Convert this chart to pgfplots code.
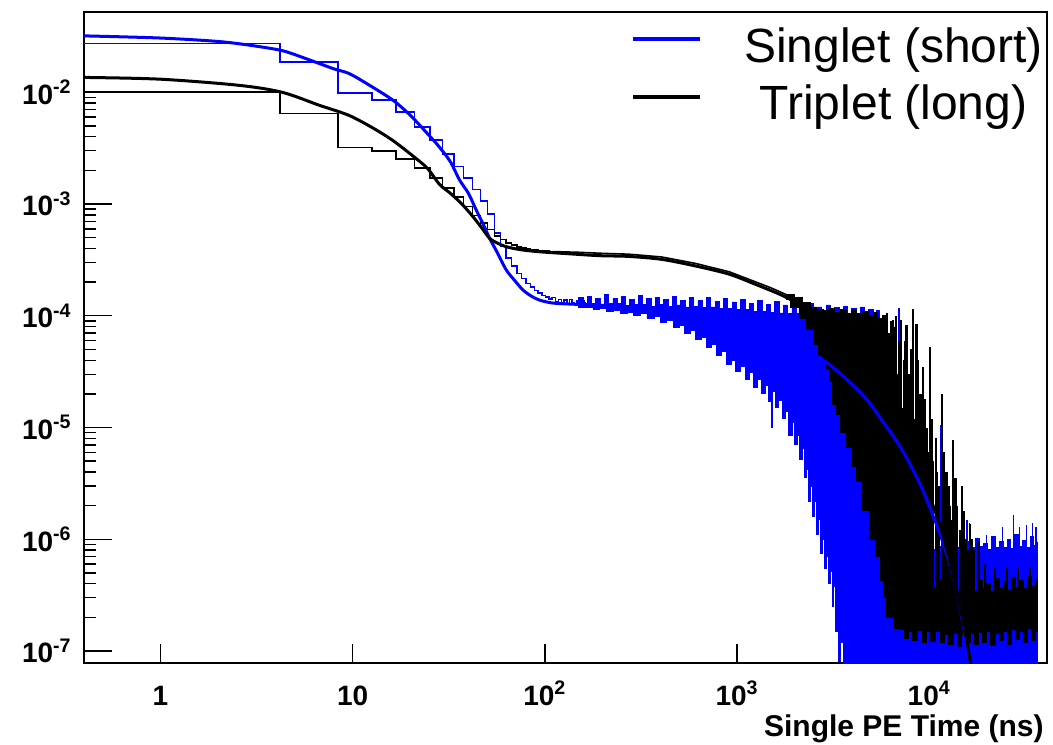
\documentclass[border=0pt]{standalone}
\usepackage{fontspec}
\setmainfont{Liberation Sans}
\usepackage{pgfplots}
\pgfplotsset{compat=1.18}
\begin{document}
\begin{tikzpicture}
\useasboundingbox (-42pt,-40.35pt) rectangle (484.5pt,331.65pt);
\begin{axis}[
  xmode=log, ymode=log,
  scale only axis, width=481.5pt, height=325.5pt,
  xmin=0.4, xmax=41000, ymin=7.76e-8, ymax=0.052,
  axis line style={line width=1.1pt},
  tick pos=left, tick align=inside,
  major tick length=14pt, minor tick length=6pt,
  every tick/.style={line width=0.7pt, black},
  xtick=\empty,
  minor xtick={0.5,0.6,0.7,0.8,0.9,2,3,4,5,6,7,8,9,20,30,40,50,60,70,80,90,
    200,300,400,500,600,700,800,900,2000,3000,4000,5000,6000,7000,8000,9000,20000,30000,40000},
  extra x ticks={1,10,100,1000,10000},
  extra x tick labels={1,10,10\textsuperscript{2},10\textsuperscript{3},10\textsuperscript{4}},
  extra x tick style={major tick length=9.5pt},
  ytick={1e-7,1e-6,1e-5,1e-4,1e-3,1e-2},
  yticklabels={10\textsuperscript{-7},10\textsuperscript{-6},10\textsuperscript{-5},10\textsuperscript{-4},10\textsuperscript{-3},10\textsuperscript{-2}},
  ticklabel style={font=\fontsize{14}{16}\selectfont\bfseries, inner sep=0pt},
  xticklabel style={anchor=base, yshift=-21pt},
  yticklabel style={anchor=east, xshift=-6pt},
  xlabel={Single PE Time (ns)},
  xlabel style={at={(axis description cs:1,0)}, anchor=base east, yshift=-36.5pt, xshift=-1.5pt, inner sep=0pt, font=\fontsize{15}{18}\selectfont\bfseries},
  legend style={draw=none, fill=none, at={(1,1)}, anchor=north east, xshift=-2pt, yshift=-7.7pt,
    inner sep=0pt, outer sep=0pt, row sep=9.7pt, column sep=21pt,
    font=\fontsize{24}{28}\selectfont, nodes={inner sep=0pt}},
  legend cell align=center,
  legend image code/.code={\draw[#1, line width=2pt] (0pt,3.6pt) -- (33.5pt,3.6pt);},
  unbounded coords=jump,
]
% singlet histogram, first bins
\addplot[const plot, blue, line width=0.8pt, forget plot] coordinates {
(0.3,0.0274)(4.2,0.0186)(8.4,0.0098)(12.6,0.0085)(16.8,0.0067)(21,0.0049)(25.2,0.00374)
(29.4,0.00281)(33.6,0.00217)(37.8,0.00171)(42,0.00135)(46.2,0.00106)(50.4,0.00081)
(54.6,0.00055)(58.8,0.00042)(63,0.00033)(67.2,0.00028)(71.4,0.00024)(75.6,0.000215)
(79.8,0.000195)(84,0.00018)(88.2,0.000168)(92.4,0.00016)(96.6,0.000152)(100.8,0.000148)
(105,0.000142)(109.2,0.000146)(113.4,0.000133)(117.6,0.00014)(121.8,0.00013)(126,0.000138)
(130.2,0.000128)(134.4,0.00014)(138.6,0.00013)(142.8,0.000127)(147,0.000136)(151.2,0.000125)
(155.4,0.000135)(159.6,0.00013)(163.8,0.00013)};
% singlet histogram, noisy part (upper envelope, then lower envelope)
\addplot[const plot, fill=blue, draw=blue, line width=0.4pt, forget plot] coordinates {
(150,1.45e-4)(158,1.27e-4)(166,1.5e-4)(175,1.3e-4)(184,1.42e-4)(194,1.25e-4)(204,1.55e-4)
(215,1.28e-4)(226,1.44e-4)(238,1.3e-4)(250,1.49e-4)(263,1.24e-4)(277,1.41e-4)(291,1.27e-4)
(306,1.52e-4)(322,1.26e-4)(339,1.43e-4)(357,1.22e-4)(376,1.47e-4)(395,1.27e-4)(416,1.4e-4)
(438,1.21e-4)(461,1.5e-4)(485,1.25e-4)(510,1.38e-4)(537,1.2e-4)(565,1.45e-4)(595,1.22e-4)
(626,1.36e-4)(659,1.18e-4)(693,1.46e-4)(730,1.2e-4)(768,1.35e-4)(808,1.16e-4)(851,1.42e-4)
(895,1.17e-4)(942,1.33e-4)(992,1.14e-4)(1044,1.4e-4)(1099,1.13e-4)(1156,1.3e-4)(1217,1.1e-4)
(1281,1.37e-4)(1348,1.1e-4)(1419,1.27e-4)(1494,1.08e-4)(1572,1.34e-4)(1655,1.06e-4)
(1742,1.25e-4)(1833,1.05e-4)(1930,1.3e-4)(2031,1.04e-4)(2138,1.22e-4)(2250,1.02e-4)
(2368,1.28e-4)(2493,1.0e-4)(2624,1.2e-4)(2762,1.0e-4)(2907,1.25e-4)(3060,9.8e-5)
(3221,1.18e-4)(3390,9.8e-5)(3568,1.22e-4)(3756,9.6e-5)(3953,1.16e-4)(4161,9.6e-5)
(4380,1.2e-4)(4610,9.5e-5)(4852,1.15e-4)(5107,9.5e-5)(5300,1.12e-4)
(5500,6e-5)(5700,2e-5)(6000,4e-6)(6300,1.2e-6)
(6600,8.5e-7)(6900,1.0e-6)(7200,7.8e-7)(7500,9.6e-7)(7800,8.4e-7)(8100,1.05e-6)(8500,8e-7)
(8900,9.2e-7)(9300,8.3e-7)(9800,1.1e-6)(10300,8.1e-7)(10800,9.6e-7)(11300,8.6e-7)
(11900,1.0e-6)(12500,8.2e-7)(13100,9.4e-7)(13700,8.5e-7)(14400,1.08e-6)(15100,8.2e-7)
(15800,9.5e-7)(16600,8.4e-7)(17400,1.02e-6)(18200,8.6e-7)(19100,9.2e-7)(20000,8.1e-7)
(21000,1.05e-6)(22000,8.5e-7)(23100,9.6e-7)(24200,8.4e-7)(25400,1.0e-6)(26600,8.2e-7)
(27900,1.1e-6)(29200,8.6e-7)(30600,9.8e-7)(32000,8.4e-7)(33500,1.06e-6)(35000,8.8e-7)
(36700,9.5e-7)
(36700,1e-8)(3770,1e-8)(3650,5e-8)(3560,1.2e-7)(3450,8e-8)(3380,2.2e-7)(3320,1.5e-7)
(3250,3.8e-7)(3190,2.5e-7)(3140,5.2e-7)(3060,4e-7)(2990,7e-7)(2920,5.5e-7)(2850,1.0e-6)
(2790,7.5e-7)(2720,1.5e-6)(2660,1.1e-6)(2600,2.2e-6)(2540,1.6e-6)(2480,3e-6)(2420,2.2e-6)
(2360,4.2e-6)(2300,3.6e-6)(2240,6.5e-6)(2180,5.2e-6)(2120,8.5e-6)(2060,7e-6)(2000,1.1e-5)
(1930,8.5e-6)(1860,1.4e-5)(1790,1.2e-5)(1720,1.75e-5)(1650,1.5e-5)(1580,2.1e-5)(1520,1.7e-5)
(1460,2.4e-5)(1400,2.0e-5)(1340,2.7e-5)(1280,2.3e-5)(1220,3.1e-5)(1160,2.7e-5)(1100,3.5e-5)
(1040,3.2e-5)(980,4.0e-5)(930,3.7e-5)(880,4.8e-5)(830,4.4e-5)(780,5.6e-5)(735,5.2e-5)
(690,6.4e-5)(650,6.1e-5)(610,7.4e-5)(570,7.0e-5)(535,8.2e-5)(500,7.9e-5)(465,9e-5)
(430,8.8e-5)(400,9.8e-5)(370,9.5e-5)(340,1.04e-4)(315,1.01e-4)(290,1.08e-4)(268,1.06e-4)
(248,1.12e-4)(228,1.1e-4)(210,1.16e-4)(193,1.14e-4)(178,1.2e-4)(164,1.18e-4)(150,1.24e-4)} -- cycle;
% singlet spikes
\addplot[blue, line width=0.8pt, forget plot] coordinates {
(1520,2.5e-5)(1520,1e-5)(1520,nan)
(6940,1e-6)(6940,1.17e-4)(6940,nan)
(7700,1e-6)(7700,6e-5)(7700,nan)
(8300,1e-6)(8300,3e-5)(8300,nan)
(11430,1e-6)(11430,1.05e-5)(11430,nan)
(15700,5e-7)(15700,1.5e-6)(15700,nan)
(16200,5e-7)(16200,1.4e-6)(16200,nan)
(19900,5e-7)(19900,1.1e-6)(19900,nan)
(24000,5e-7)(24000,1.3e-6)(24000,nan)
(27500,5e-7)(27500,1.66e-6)(27500,nan)
(29500,5e-7)(29500,1.3e-6)(29500,nan)
(32000,5e-7)(32000,1.35e-6)(32000,nan)
(34500,5e-7)(34500,1.4e-6)(34500,nan)
(36000,5e-7)(36000,1.3e-6)};
% triplet histogram, first bins
\addplot[const plot, black, line width=0.8pt, forget plot] coordinates {
(0.3,0.0101)(4.2,0.00646)(8.4,0.0032)(12.6,0.00299)(16.8,0.00252)(21,0.0021)(25.2,0.00171)
(29.4,0.00139)(33.6,0.00115)(37.8,0.00095)(42,0.00079)(46.2,0.00068)(50.4,0.00059)
(54.6,0.00052)(58.8,0.00048)(63,0.00045)(67.2,0.00043)(71.4,0.000415)(75.6,0.000405)
(79.8,0.000397)(84,0.00039)(88.2,0.000386)(92.4,0.000382)(96.6,0.00038)(100.8,0.000378)
(105,0.000376)};
\addplot[black, line width=0.8pt, forget plot] coordinates {
(105,3.76e-4)(120,3.74e-4)(150,3.7e-4)(200,3.62e-4)(272,3.56e-4)(405,3.36e-4)(603,2.95e-4)
(908,2.48e-4)(1240,2.02e-4)(1500,1.78e-4)(1800,1.55e-4)};
% triplet histogram, noisy part
\addplot[const plot, fill=black, draw=black, line width=0.4pt, forget plot] coordinates {
(1800,1.55e-4)(2000,1.45e-4)(2200,1.32e-4)(2400,1.2e-4)(2600,1.15e-4)(2800,1.12e-4)
(3000,1.16e-4)(3200,1.08e-4)(3450,1.14e-4)(3700,1.05e-4)(3950,1.12e-4)(4200,1.04e-4)
(4500,1.1e-4)(4800,1.0e-4)(5100,1.08e-4)(5400,9.5e-5)(5700,1.0e-4)(5900,4e-5)(6100,8e-6)
(6300,2e-6)(6600,8e-7)
(7000,6e-7)(7400,4.3e-7)(7800,5.3e-7)(8200,4.0e-7)(8700,4.8e-7)(9200,3.9e-7)(9700,4.6e-7)
(10200,3.7e-7)(10800,4.4e-7)(11400,3.6e-7)(12000,4.6e-7)(12600,3.7e-7)(13300,4.2e-7)
(14000,3.5e-7)(14700,4.4e-7)(15500,3.6e-7)(16300,4.1e-7)(17100,3.4e-7)(18000,4.3e-7)
(18900,3.6e-7)(19900,4.0e-7)(20900,3.4e-7)(22000,4.5e-7)(23100,3.6e-7)(24300,4.2e-7)
(25500,3.5e-7)(26800,4.6e-7)(28100,3.7e-7)(29500,4.3e-7)(31000,3.6e-7)(32500,4.7e-7)
(34100,3.8e-7)(35500,4.4e-7)(36700,4.0e-7)
(36700,1.5e-7)(35500,1.25e-7)(34100,1.6e-7)(32500,1.2e-7)(31000,1.5e-7)(29500,1.28e-7)
(28100,1.55e-7)(26800,1.15e-7)(25500,1.5e-7)(24300,1.25e-7)(23100,1.45e-7)(22000,1.12e-7)
(20900,1.5e-7)(19900,1.2e-7)(18900,1.48e-7)(18000,1.15e-7)(17100,1.45e-7)(16300,1.2e-7)
(15500,1.4e-7)(14700,1.1e-7)(14000,1.45e-7)(13300,1.15e-7)(12600,1.42e-7)(12000,1.2e-7)
(11400,1.5e-7)(10800,1.22e-7)(10200,1.5e-7)(9700,1.2e-7)(9200,1.52e-7)(8700,1.25e-7)
(8200,1.5e-7)(7800,1.3e-7)(7400,1.55e-7)(7000,1.6e-7)
(6500,2e-7)(5960,4.3e-7)(5600,7e-7)(5270,1e-6)(4900,1.8e-6)(4500,3.3e-6)
(4200,4.5e-6)(4000,6.6e-6)(3700,9e-6)(3450,1.3e-5)(3300,1.6e-5)(3150,2.6e-5)(3030,3.4e-5)
(2900,4e-5)(2790,4.4e-5)(2650,5.5e-5)(2500,7.5e-5)(2300,9.5e-5)(2100,1.18e-4)(1900,1.4e-4)
(1800,1.48e-4)} -- cycle;
% triplet spikes
\addplot[black, line width=1.1pt, forget plot] coordinates {
(5850,3e-7)(5850,9e-5)(5850,nan) (5980,3e-7)(5980,1e-4)(5980,nan)
(6050,3e-7)(6050,1.05e-4)(6050,nan) (6150,3e-7)(6150,7e-5)(6150,nan)
(6220,3e-7)(6220,4e-5)(6220,nan) (6300,3e-7)(6300,9e-5)(6300,nan)
(6380,3e-7)(6380,6e-5)(6380,nan) (6480,3e-7)(6480,9.1e-5)(6480,nan)
(6540,3e-7)(6540,2.5e-5)(6540,nan) (6600,3e-7)(6600,5e-5)(6600,nan)
(6670,3e-7)(6670,8e-5)(6670,nan) (6740,3e-7)(6740,1e-4)(6740,nan)
(6850,3e-7)(6850,3e-5)(6850,nan) (6950,3e-7)(6950,6e-5)(6950,nan)
(7050,3e-7)(7050,4.5e-5)(7050,nan) (7160,3e-7)(7160,9.1e-5)(7160,nan)
(7280,3e-7)(7280,1.5e-5)(7280,nan) (7400,3e-7)(7400,4e-5)(7400,nan)
(7500,3e-7)(7500,6e-5)(7500,nan) (7610,3e-7)(7610,8.2e-5)(7610,nan)
(7750,3e-7)(7750,2e-5)(7750,nan) (7900,3e-7)(7900,3e-5)(7900,nan)
(8050,3e-7)(8050,5e-5)(8050,nan) (8240,3e-7)(8240,1.15e-4)(8240,nan)
(8400,3e-7)(8400,1.2e-5)(8400,nan) (8580,3e-7)(8580,8.5e-5)(8580,nan)
(8700,3e-7)(8700,4e-5)(8700,nan) (8800,3e-7)(8800,1.5e-5)(8800,nan)
(9000,3e-7)(9000,2e-5)(9000,nan) (9150,3e-7)(9150,8e-6)(9150,nan)
(9300,3e-7)(9300,3.5e-5)(9300,nan) (9500,3e-7)(9500,1.8e-5)(9500,nan)
(9700,3e-7)(9700,1e-5)(9700,nan) (9900,3e-7)(9900,6e-6)(9900,nan)
(10090,3e-7)(10090,5.3e-5)(10090,nan) (10300,3e-7)(10300,1.2e-5)(10300,nan)
(10500,3e-7)(10500,5e-6)(10500,nan) (10800,3e-7)(10800,8e-6)(10800,nan)
(11000,3e-7)(11000,4e-6)(11000,nan) (11200,3e-7)(11200,3e-6)(11200,nan)
(11600,3e-7)(11600,2e-5)(11600,nan) (11900,3e-7)(11900,6e-6)(11900,nan)
(12300,3e-7)(12300,4e-6)(12300,nan) (12600,3e-7)(12600,3e-6)(12600,nan)
(12800,3e-7)(12800,2e-6)(12800,nan) (13000,3e-7)(13000,1.5e-6)(13000,nan)
(13350,3e-7)(13350,7.8e-6)(13350,nan) (13700,3e-7)(13700,3.5e-6)(13700,nan)
(14000,3e-7)(14000,2e-6)(14000,nan) (14400,3e-7)(14400,1.2e-6)(14400,nan)
(14770,3e-7)(14770,3e-6)(14770,nan) (15100,3e-7)(15100,1.8e-6)(15100,nan)
(15500,3e-7)(15500,1e-6)(15500,nan) (15900,3e-7)(15900,8e-7)(15900,nan)
(16330,3e-7)(16330,1.37e-6)(16330,nan) (16700,3e-7)(16700,1e-6)(16700,nan)
(17000,3e-7)(17000,8e-7)(17000,nan) (18060,3e-7)(18060,9.7e-7)(18060,nan)
(19500,3e-7)(19500,6e-7)(19500,nan) (22000,3e-7)(22000,5.5e-7)(22000,nan)
(25500,3e-7)(25500,5.5e-7)(25500,nan) (29000,3e-7)(29000,5.5e-7)(29000,nan)
(33500,3e-7)(33500,5.5e-7)};
% fits
\addplot[blue, line width=1.5pt, smooth] coordinates {
(0.3,0.0322)(0.4,0.032)(1,0.0306)(2,0.0285)(3,0.0262)(4.3,0.0236)(5.5,0.0205)(6.7,0.0181)
(8,0.0162)(9.6,0.0147)(12,0.0118)(16.2,0.0085)(20,0.0062)(24.4,0.0043)(28,0.0033)
(32.2,0.0024)(36,0.00164)(40,0.00125)(44,0.00088)(48,0.00065)(51.6,0.000493)(56,0.00038)
(63,0.000257)(70,0.000205)(77,0.00017)(85,0.00015)(94,0.000138)(110,0.00013)(140,0.000127)
(200,0.000124)(300,0.000118)(500,0.000108)(700,0.0001)(1000,8.7e-5)(1500,7.1e-5)
(2000,5.7e-5)(3000,3.7e-5)(4510,1.96e-5)(5740,1.13e-5)(7310,6.1e-6)(9300,2.7e-6)
(11840,9.1e-7)(13850,3.5e-7)(15630,1.17e-7)(16400,7.8e-8)(17000,5e-8)};
\addlegendentry{Singlet (short)}
\addplot[black, line width=1.5pt, smooth] coordinates {
(0.3,0.0137)(0.4,0.0136)(1,0.0131)(2.56,0.01155)(4.3,0.01)(6.7,0.00766)(9.6,0.0062)
(13,0.0047)(16.2,0.0037)(20,0.0028)(24.4,0.0021)(28.3,0.0015)(32.2,0.00125)(37,0.001)
(42.3,0.00077)(47,0.00061)(51.6,0.000493)(57,0.000445)(63,0.000415)(75,0.00039)
(94,0.000374)(130,0.00036)(193,0.000345)(272,0.00034)(405,0.00032)(603,0.00028)
(908,0.000236)(1240,0.000192)(1720,0.000152)(2200,0.00012)(3000,7.7e-5)(4000,4.4e-5)
(5000,2.5e-5)(6000,1.45e-5)(7310,7e-6)(9300,3.3e-6)(11430,1.3e-6)(13360,4.6e-7)
(15070,1.77e-7)(16400,7.8e-8)(17000,4e-8)};
\addlegendentry{Triplet (long)}
\end{axis}
\end{tikzpicture}
\end{document}
